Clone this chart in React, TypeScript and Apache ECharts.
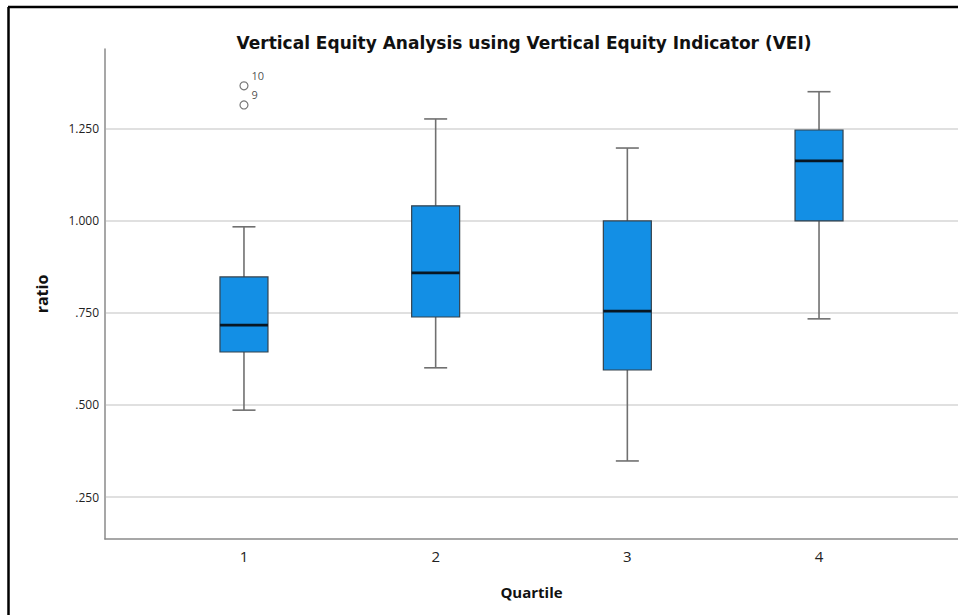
import React, { useEffect, useRef } from "react";
import * as echarts from "echarts";

const quartiles = [1, 2, 3, 4];
const whiskerLow = [0.486, 0.601, 0.348, 0.734];
const q1 = [0.644, 0.739, 0.595, 1.0];
const median = [0.717, 0.859, 0.755, 1.163];
const q3 = [0.848, 1.041, 1.0, 1.247];
const whiskerHigh = [0.984, 1.277, 1.198, 1.351];

const outlierX = [1, 1];
const outlierY = [1.315, 1.367];
const outlierLabels = ["9", "10"];

const yTicks = [0.25, 0.5, 0.75, 1.0, 1.25];

const titleText = "Vertical Equity Analysis using Vertical Equity Indicator (VEI)";

export default function App() {
  const ref = useRef<HTMLDivElement>(null);

  useEffect(() => {
    document.body.style.margin = "0";
    if (!ref.current) return;
    const chart = echarts.init(ref.current, null, { renderer: "svg" });

    const boxData = quartiles.map((q, i) => [q, whiskerLow[i], q1[i], median[i], q3[i], whiskerHigh[i]]);
    const outlierData = outlierX.map((x, i) => ({ value: [x, outlierY[i]], name: outlierLabels[i] }));
    const gridData = yTicks.map((v) => [1, v]);

    const fmt = (v: number) => (v < 1 ? v.toFixed(3).slice(1) : v.toFixed(3));

    chart.setOption({
      animation: false,
      backgroundColor: "#ffffff",
      textStyle: { fontFamily: "Open Sans" },
      title: {
        text: titleText,
        left: 519,
        top: 29,
        textAlign: "center",
        textStyle: { fontSize: 17, fontWeight: "bold", color: "#111", fontFamily: "DejaVu Sans" },
      },
      graphic: [
        { type: "line", shape: { x1: 8.5, y1: 7, x2: 8.5, y2: 615 }, style: { stroke: "#000", lineWidth: 2.5 } },
        { type: "line", shape: { x1: 8, y1: 7, x2: 958, y2: 7 }, style: { stroke: "#000", lineWidth: 2.5 } },
      ],
      grid: { left: 105, right: 0, top: 49, bottom: 76, containLabel: false },
      xAxis: {
        type: "value",
        min: 0.275,
        max: 4.725,
        name: "Quartile",
        nameLocation: "middle",
        nameGap: 45,
        nameTextStyle: { fontSize: 15, fontWeight: "bold", color: "#111" },
        axisLine: { show: true, onZero: false, lineStyle: { color: "#8a8a8a", width: 1.5 } },
        axisTick: { show: false },
        splitLine: { show: false },
        axisLabel: { customValues: quartiles, fontSize: 15, color: "#222", margin: 9 },
      },
      yAxis: {
        type: "value",
        min: 0.136,
        max: 1.467,
        name: "ratio",
        nameLocation: "middle",
        nameGap: 55,
        nameTextStyle: { fontSize: 16, fontWeight: "bold", color: "#111" },
        axisLine: { show: true, lineStyle: { color: "#8a8a8a", width: 1.5 } },
        axisTick: { show: false },
        splitLine: { show: false },
        axisLabel: { customValues: yTicks, formatter: fmt, fontSize: 12, color: "#222", margin: 6 },
      },
      series: [
        {
          type: "custom",
          z: 1,
          silent: true,
          data: gridData,
          encode: { x: 0, y: 1 },
          renderItem: (params: any, api: any) => {
            const p = api.coord([1, api.value(1)]);
            const cs = params.coordSys;
            return {
              type: "line",
              shape: { x1: cs.x + 1, y1: p[1], x2: cs.x + cs.width, y2: p[1] },
              style: { stroke: "#d6d6d6", lineWidth: 1.5 },
            };
          },
        },
        {
          type: "custom",
          z: 2,
          data: boxData,
          encode: { x: 0, y: [1, 2, 3, 4, 5] },
          renderItem: (params: any, api: any) => {
            const x = api.value(0);
            const pMin = api.coord([x, api.value(1)]);
            const pQ1 = api.coord([x, api.value(2)]);
            const pMed = api.coord([x, api.value(3)]);
            const pQ3 = api.coord([x, api.value(4)]);
            const pMax = api.coord([x, api.value(5)]);
            const cx = pMed[0];
            const half = 24;
            const cap = 11.5;
            const whisker = { stroke: "#707070", lineWidth: 1.6 };
            return {
              type: "group",
              children: [
                { type: "line", shape: { x1: cx, y1: pMax[1], x2: cx, y2: pQ3[1] }, style: whisker },
                { type: "line", shape: { x1: cx, y1: pQ1[1], x2: cx, y2: pMin[1] }, style: whisker },
                { type: "line", shape: { x1: cx - cap, y1: pMax[1], x2: cx + cap, y2: pMax[1] }, style: whisker },
                { type: "line", shape: { x1: cx - cap, y1: pMin[1], x2: cx + cap, y2: pMin[1] }, style: whisker },
                {
                  type: "rect",
                  shape: { x: cx - half, y: pQ3[1], width: half * 2, height: pQ1[1] - pQ3[1] },
                  style: { fill: "#138fe5", stroke: "#34424d", lineWidth: 1.2 },
                },
                {
                  type: "line",
                  shape: { x1: cx - half, y1: pMed[1], x2: cx + half, y2: pMed[1] },
                  style: { stroke: "#081622", lineWidth: 2.6 },
                },
              ],
            };
          },
        },
        {
          type: "scatter",
          z: 3,
          data: outlierData,
          symbol: "circle",
          symbolSize: 8,
          itemStyle: { color: "#ffffff", borderColor: "#555", borderWidth: 1.2 },
          label: {
            show: true,
            position: "right",
            offset: [0, -10],
            distance: 3,
            formatter: (p: any) => p.name,
            fontSize: 11,
            color: "#222222",
            textBorderWidth: 0,
          },
        },
      ],
    });

    return () => chart.dispose();
  }, []);

  return <div ref={ref} style={{ width: 958, height: 615 }} />;
}
